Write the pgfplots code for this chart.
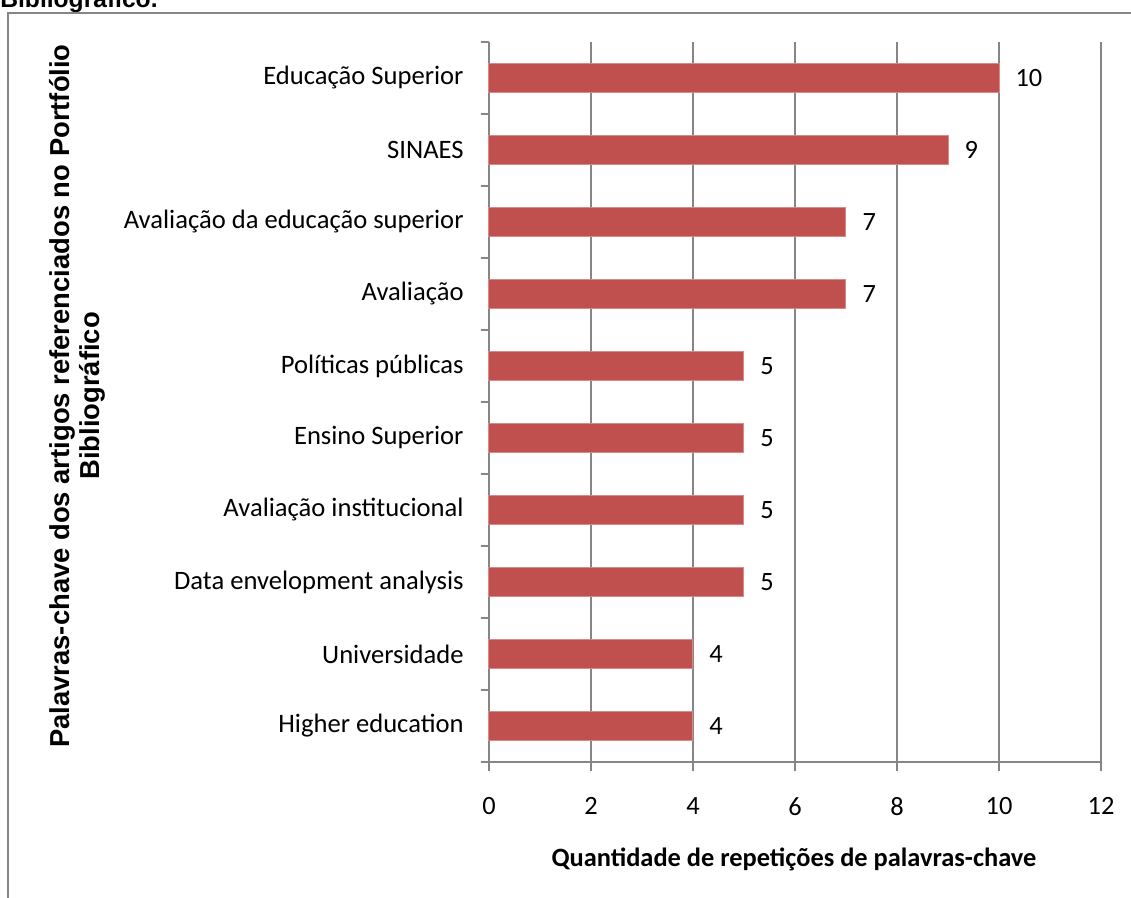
\documentclass[border=0pt]{standalone}
\usepackage{fontspec}
\setmainfont{Carlito}
\newfontfamily\arialfont{Liberation Sans}
\usepackage{pgfplots}
\pgfplotsset{compat=1.18}
\definecolor{barred}{HTML}{C0504D}
\definecolor{baredge}{HTML}{D98A88}
\definecolor{gridgray}{HTML}{868686}
\begin{document}
\begin{tikzpicture}
\useasboundingbox (0,0) rectangle (565.5pt,449pt);
\begin{axis}[
  at={(244.5pt,68pt)}, anchor=south west,
  scale only axis, width=306pt, height=360pt,
  xbar, bar width=14.5pt,
  xmin=0, xmax=12, ymin=-0.5, ymax=9.5,
  axis x line*=bottom, axis y line*=left,
  axis line style={gridgray, line width=0.6pt, -},
  xtick={0,2,...,12},
  xmajorgrids, major grid style={gridgray, line width=0.6pt},
  tick align=outside, major tick length=4.5pt,
  x tick style={draw=gridgray, line width=0.6pt},
  ytick={0,...,9},
  major y tick style={draw=none},
  minor ytick={-0.5,0.5,...,9.5},
  minor tick length=4pt,
  minor y tick style={draw=gridgray, line width=0.6pt},
  yticklabels={Higher education, Universidade, Data envelopment analysis, Avaliação institucional, Ensino Superior, Políticas públicas, Avaliação, Avaliação da educação superior, SINAES, Educação Superior},
  yticklabel style={font=\fontsize{13.3}{15}\selectfont, anchor=east, inner sep=0pt, xshift=-8pt},
  xticklabel style={font=\fontsize{13.2}{15}\selectfont, anchor=north, inner sep=0pt, yshift=-13pt},
  /pgf/number format/assume math mode=true,
  nodes near coords,
  nodes near coords style={font=\fontsize{13.2}{15}\selectfont, anchor=west, inner sep=0pt, xshift=8pt, text=black},
  clip=false,
]
\addplot[fill=barred, draw=baredge, line width=0.5pt, bar shift=0pt] coordinates {
(4,0) (4,1) (5,2) (5,3) (5,4) (5,5) (7,6) (7,7) (9,8) (10,9)};
\end{axis}
\node[font=\fontsize{13.2}{15}\selectfont\bfseries] at (397pt,19.5pt) {Quantidade de repetições de palavras-chave};
\node[rotate=90, align=center, font=\arialfont\fontsize{13.7}{15}\selectfont\bfseries] at (38.5pt,251pt) {Palavras-chave dos artigos referenciados no Portfólio\\Bibliográfico};
\node[anchor=base west, inner sep=0pt, font=\arialfont\fontsize{12.3}{15}\selectfont\bfseries] at (0pt,445pt) {Bibliográfico.};
\draw[gridgray, line width=1pt] (4pt,-10pt) -- (4pt,442.5pt) -- (600pt,442.5pt);
\end{tikzpicture}
\end{document}
